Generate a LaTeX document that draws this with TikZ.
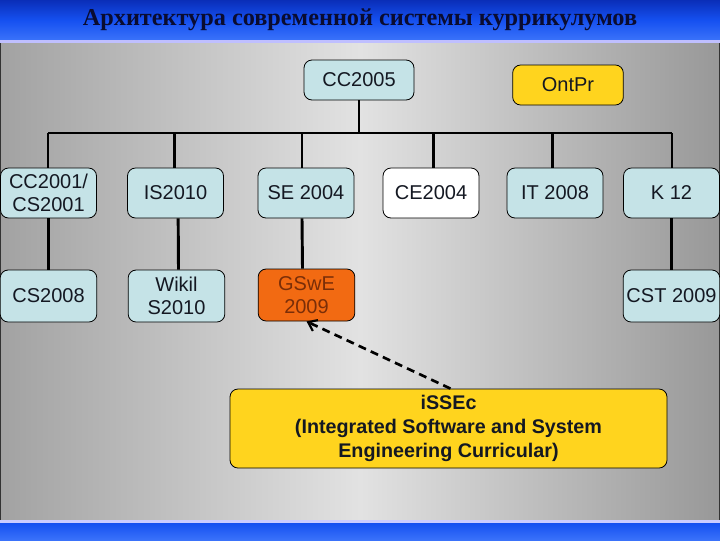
\documentclass[tikz,border=0pt]{standalone}
\usepackage{fontspec}
\setmainfont{Liberation Serif}
\newfontfamily\arial{Liberation Sans}
\usetikzlibrary{arrows.meta}
\definecolor{boxblue}{HTML}{C5E3E7}
\definecolor{boxyellow}{HTML}{FFD41E}
\definecolor{boxorange}{HTML}{F26A12}
\definecolor{orangetext}{HTML}{7A2E08}
\definecolor{textdark}{HTML}{141822}
\definecolor{bgedgeL}{HTML}{A2A2A2}
\definecolor{bgedgeR}{HTML}{989898}
\definecolor{bgmid}{HTML}{E2E2E2}
\definecolor{bluetop}{HTML}{0A2EB8}
\definecolor{bluemid}{HTML}{1550F0}
\definecolor{bluebot}{HTML}{3A72FA}
\definecolor{titletext}{HTML}{0A0C30}
\tikzset{
  box/.style={draw=black, line width=0.6pt, rounded corners=6pt, fill=boxblue,
    font=\arial\fontsize{15}{17.5}\selectfont, text=textdark, align=center, inner sep=2pt},
  rowtwo/.style={box, minimum width=72pt, minimum height=37.5pt},
  rowthree/.style={box, minimum width=72.5pt, minimum height=39pt},
  conn/.style={line width=2.2pt, black},
  dasharrow/.style={line width=2pt, black, dash pattern=on 6pt off 4pt,
    -{Straight Barb[length=6pt,width=9pt,line width=1.6pt]}}
}
\begin{document}
\begin{tikzpicture}[x=0.75pt,y=-0.75pt]
\useasboundingbox (0,0) rectangle (720,540);
% background
\shade[left color=bgedgeL, right color=bgedgeR, middle color=bgmid] (0,42) rectangle (720,522);
\draw[line width=1pt, gray!40!black] (0.5,42) -- (0.5,522);
\draw[line width=1pt, gray!40!black] (719.5,42) -- (719.5,522);
% title bar
\shade[top color=bluetop, bottom color=bluebot, middle color=bluemid] (0,0) rectangle (720,40);
\fill[blue!25!white] (0,40) rectangle (720,43);
\node[font=\bfseries\fontsize{18.2}{20}\selectfont, text=titletext] (title) at (360,20) {Архитектура современной системы куррикулумов};
% bottom bar
\fill[blue!20!white] (0,520) rectangle (720,523);
\shade[top color=bluemid, bottom color=bluebot] (0,523) rectangle (720,540);

% nodes
\node[box, minimum width=82.5pt, minimum height=30pt] (cc2005) at (359,80) {CC2005};
\node[box, fill=boxyellow, minimum width=83pt, minimum height=30pt] (ontpr) at (568,85) {OntPr};

\node[rowtwo] (cc2001) at (48.5,193) {CC2001/\\CS2001};
\node[rowtwo] (is2010) at (175.5,193) {IS2010};
\node[rowtwo] (se2004) at (306,193) {SE 2004};
\node[rowtwo, fill=white] (ce2004) at (431,193) {CE2004};
\node[rowtwo] (it2008) at (555,193) {IT 2008};
\node[rowtwo] (k12) at (671.5,193) {K 12};

\node[rowthree] (cs2008) at (48.5,296) {CS2008};
\node[rowthree] (wikil) at (176.5,296) {Wikil\\S2010};
\node[rowthree, fill=boxorange, text=orangetext] (gswe) at (306.5,295) {GSwE\\2009};
\node[rowthree] (cst) at (671.5,296) {CST 2009};

\node[box, fill=boxyellow, minimum width=327.75pt, minimum height=59.25pt,
  font=\arial\bfseries\fontsize{14.8}{18}\selectfont] (issec) at (448.5,428.5)
  {iSSEc\\(Integrated Software and System\\Engineering Curricular)};

% bus
\coordinate (busL) at (48,133);
\coordinate (busR) at (672,133);
\draw[conn, line width=2pt] (busL) -- (busR);
\draw[conn] (cc2005.south) -- (cc2005.south |- busL);
\draw[conn] (busL) -- (busL |- cc2001.north);
\draw[conn] ([xshift=-1pt]is2010.north) -- ([xshift=-1pt]is2010.north |- busL);
\draw[conn] ([xshift=-3pt]se2004.north) -- ([xshift=-3pt]se2004.north |- busL);
\draw[conn] ([xshift=2pt]ce2004.north) -- ([xshift=2pt]ce2004.north |- busL);
\draw[conn] ([xshift=-2pt]it2008.north) -- ([xshift=-2pt]it2008.north |- busL);
\draw[conn] (busR) -- (busR |- k12.north);

% verticals row 2 to row 3
\draw[conn] (cc2001.south) -- (cs2008.north);
\draw[conn] ([xshift=2pt]is2010.south) -- ([xshift=1.5pt]wikil.north);
\draw[conn] ([xshift=-3pt]se2004.south) -- ([xshift=-3pt]gswe.north);
\draw[conn] (k12.south) -- (cst.north);

% dashed arrow
\draw[dasharrow] ([xshift=1.5pt]issec.north) -- (gswe.south);
\end{tikzpicture}
\end{document}
